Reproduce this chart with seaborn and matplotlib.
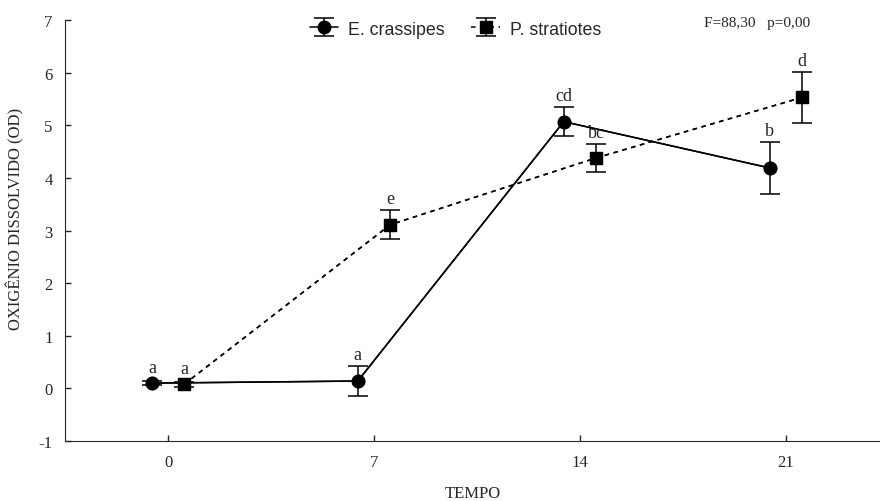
import numpy as np
import matplotlib
matplotlib.use("Agg")
import matplotlib.pyplot as plt
import seaborn as sns
import pandas as pd

# dados
tempo = [0, 7, 14, 21]
especies = ["E. crassipes", "P. stratiotes"]
od_crassipes = [0.10, 0.14, 5.07, 4.19]
ep_crassipes = [0.04, 0.28, 0.27, 0.49]
od_stratiotes = [0.08, 3.11, 4.38, 5.53]
ep_stratiotes = [0.05, 0.28, 0.26, 0.48]
letras_crassipes = ["a", "a", "cd", "b"]
letras_stratiotes = ["a", "e", "bc", "d"]
estat = "F=88,30   p=0,00"

sns.set_style("ticks")
plt.rcParams["font.family"] = ["Liberation Serif", "DejaVu Serif"]
plt.rcParams["axes.unicode_minus"] = False

df = pd.DataFrame({
    "TEMPO": tempo * 2,
    "OD": od_crassipes + od_stratiotes,
    "EP": ep_crassipes + ep_stratiotes,
    "Especie": [especies[0]] * 4 + [especies[1]] * 4,
})
# deslocamento (dodge) de cada espécie em torno do tempo
desloc = {especies[0]: -0.55, especies[1]: 0.55}
df["x"] = df["TEMPO"] + df["Especie"].map(desloc)

fig = plt.figure(figsize=(8.8, 5.02), dpi=100)
ax = fig.add_axes([0.074, 0.1195, 0.926, 0.8385])

estilos = {especies[0]: ("o", "-"), especies[1]: ("s", (0, (3, 3)))}
letras = {especies[0]: letras_crassipes, especies[1]: letras_stratiotes}

for esp in especies:
    d = df[df["Especie"] == esp]
    mk, ls = estilos[esp]
    ax.errorbar(d["x"], d["OD"], yerr=d["EP"], fmt=mk, linestyle=ls,
                color="black", ms=9, lw=1.1, elinewidth=1.1, capsize=7.5,
                capthick=1.1, label=esp, zorder=2)
    for xx, yy, ee, lt in zip(d["x"], d["OD"], d["EP"], letras[esp]):
        ax.text(xx, yy + max(ee, 0.08) + 0.06, lt, ha="center", va="bottom",
                fontsize=13)

sns.lineplot(data=df, x="x", y="OD", hue="Especie", style="Especie",
             palette=["black", "black"], dashes=[(1, 0), (3, 3)],
             markers=["o", "s"], markersize=9, markeredgecolor="black",
             linewidth=1.1, legend=False, ax=ax, zorder=3)

ax.set_xlim(-3.5, 24.2)
ax.set_ylim(-1, 7)
ax.set_xticks(tempo)
ax.set_yticks(range(-1, 8))
ax.tick_params(direction="in", length=4, width=1, labelsize=12, pad=9)
ax.set_xlabel("TEMPO", fontsize=12)
ax.set_ylabel("OXIGÊNIO DISSOLVIDO (OD)", fontsize=12)
ax.xaxis.set_label_coords(0.5, -0.105)
ax.yaxis.set_label_coords(-0.05, 0.53)
sns.despine(ax=ax)

leg = ax.legend(loc="upper center", bbox_to_anchor=(0.479, 1.037), ncol=2,
                frameon=False, handlelength=1.6, columnspacing=1.5,
                handletextpad=0.55,
                prop={"family": "Liberation Sans", "size": 12.8})
ax.text(0.849, 0.995, estat, transform=ax.transAxes, ha="center", va="center",
        fontsize=11)

fig.savefig("out.png", dpi=100)
